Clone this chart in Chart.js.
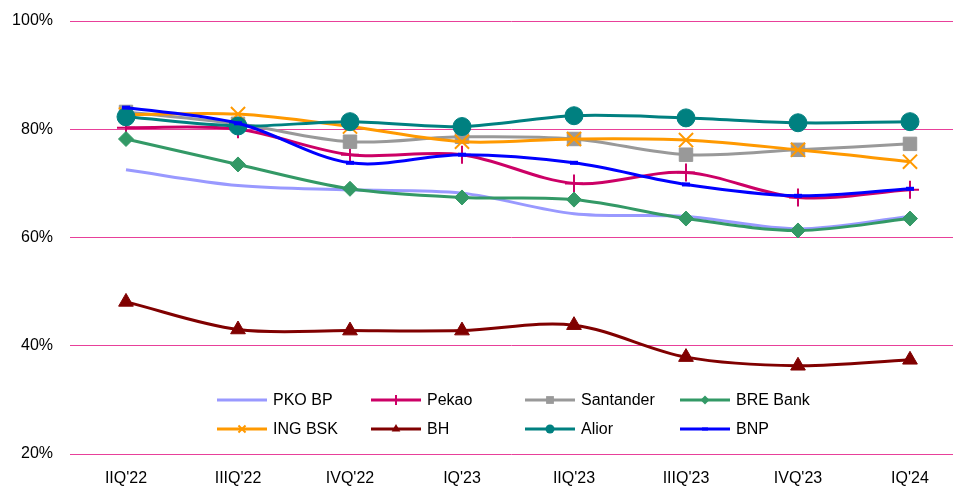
<!DOCTYPE html>
<html>
<head>
<meta charset="utf-8">
<script src="https://cdn.jsdelivr.net/npm/chart.js@4/dist/chart.umd.min.js"></script>
<style>
  html, body { margin: 0; padding: 0; background: #ffffff; }
  #wrap { width: 954px; height: 488px; position: relative; }
</style>
</head>
<body>
<div id="wrap"><canvas id="c" width="954" height="488"></canvas></div>
<script>
const categories = ["IIQ'22", "IIIQ'22", "IVQ'22", "IQ'23", "IIQ'23", "IIIQ'23", "IVQ'23", "IQ'24"];
const yTicks = [20, 40, 60, 80, 100];

const pkoBP     = [72.5, 69.6, 68.8, 68.2, 64.4, 63.9, 61.6, 63.9];
const pekao     = [80.3, 80.0, 75.3, 75.3, 70.0, 72.0, 67.4, 68.8];
const santander = [83.2, 81.0, 77.7, 78.6, 78.2, 75.3, 76.2, 77.3];
const breBank   = [78.2, 73.5, 69.0, 67.4, 67.0, 63.5, 61.3, 63.5];
const ingBSK    = [82.7, 82.8, 80.5, 77.7, 78.2, 78.0, 76.2, 74.0];
const bh        = [48.1, 43.0, 42.8, 42.8, 43.8, 37.9, 36.3, 37.4];
const alior     = [82.3, 80.6, 81.4, 80.5, 82.5, 82.1, 81.2, 81.4];
const bnp       = [84.0, 81.1, 73.8, 75.3, 73.8, 69.8, 67.7, 69.0];

const seriesNames = ["PKO BP", "Pekao", "Santander", "BRE Bank", "ING BSK", "BH", "Alior", "BNP"];
const seriesData = [pkoBP, pekao, santander, breBank, ingBSK, bh, alior, bnp];

const styles = [
  { color: '#9999FF', style: 'none',     r: 0,  lr: 0 },
  { color: '#CC0066', style: 'cross',    r: 9,  lr: 5 },
  { color: '#999999', style: 'rect',     r: 9.5,lr: 5.5 },
  { color: '#339966', style: 'rectRot',  r: 7.5,lr: 4.5 },
  { color: '#FF9900', style: 'crossRot', r: 10, lr: 5 },
  { color: '#800000', style: 'triangle', r: 8.5,lr: 5 },
  { color: '#008080', style: 'circle',   r: 9,  lr: 4.5 },
  { color: '#0000FF', style: 'line',     r: 4,  lr: 3 }
];

const datasets = seriesNames.map((name, i) => {
  const s = styles[i];
  const isLineMarker = s.style === 'cross' || s.style === 'crossRot' || s.style === 'line';
  return {
    label: name,
    data: seriesData[i].map((v, k) => ({ x: k, y: v })),
    borderColor: s.color,
    backgroundColor: s.color,
    borderWidth: 3,
    tension: 0.33,
    order: seriesNames.length - i,
    clip: false,
    pointStyle: s.style === 'none' ? false : s.style,
    pointRadius: s.r,
    pointHoverRadius: s.r,
    pointBorderWidth: s.style === 'line' ? 4 : (isLineMarker ? 2 : 1),
    pointBackgroundColor: s.color,
    pointBorderColor: s.color
  };
});

function drawMarker(ctx, style, x, y, r, color) {
  ctx.save();
  ctx.fillStyle = color;
  ctx.strokeStyle = color;
  ctx.beginPath();
  const q = Math.SQRT1_2 * r;
  switch (style) {
    case 'circle':
      ctx.arc(x, y, r, 0, Math.PI * 2); ctx.fill(); break;
    case 'rect':
      ctx.fillRect(x - q, y - q, 2 * q, 2 * q); break;
    case 'rectRot':
      ctx.moveTo(x - r, y); ctx.lineTo(x, y - r); ctx.lineTo(x + r, y); ctx.lineTo(x, y + r);
      ctx.closePath(); ctx.fill(); break;
    case 'triangle':
      ctx.moveTo(x, y - r); ctx.lineTo(x + r * 0.866, y + r * 0.5); ctx.lineTo(x - r * 0.866, y + r * 0.5);
      ctx.closePath(); ctx.fill(); break;
    case 'cross':
      ctx.lineWidth = 2;
      ctx.moveTo(x, y - r); ctx.lineTo(x, y + r); ctx.moveTo(x - r, y); ctx.lineTo(x + r, y);
      ctx.stroke(); break;
    case 'crossRot':
      ctx.lineWidth = 2;
      ctx.moveTo(x - q, y - q); ctx.lineTo(x + q, y + q); ctx.moveTo(x + q, y - q); ctx.lineTo(x - q, y + q);
      ctx.stroke(); break;
    case 'line':
      ctx.fillRect(x - r, y - 1.5, 2 * r, 3); break;
  }
  ctx.restore();
}

const legendPlugin = {
  id: 'customLegend',
  afterDraw(chart) {
    const ctx = chart.ctx;
    const colX = [217, 371, 525, 680];
    const rowY = [400, 429];
    ctx.save();
    seriesNames.forEach((name, i) => {
      const s = styles[i];
      const x0 = colX[i % 4];
      const y = rowY[Math.floor(i / 4)];
      ctx.strokeStyle = s.color;
      ctx.lineWidth = 3;
      ctx.beginPath();
      ctx.moveTo(x0, y); ctx.lineTo(x0 + 50, y);
      ctx.stroke();
      if (s.style !== 'none') drawMarker(ctx, s.style, x0 + 25, y, s.lr, s.color);
      ctx.fillStyle = '#000000';
      ctx.font = '16px "Liberation Sans", Arial, sans-serif';
      ctx.textBaseline = 'middle';
      ctx.textAlign = 'left';
      ctx.fillText(name, x0 + 56, y + 1);
    });
    ctx.restore();
  }
};

new Chart(document.getElementById('c'), {
  type: 'line',
  data: { datasets },
  plugins: [legendPlugin],
  options: {
    responsive: false,
    animation: false,
    layout: { autoPadding: false, padding: { top: 21, right: 1, left: 0, bottom: 0 } },
    plugins: { legend: { display: false }, tooltip: { enabled: false } },
    scales: {
      x: {
        type: 'linear',
        min: -0.5,
        max: 7.384,
        afterBuildTicks(scale) { scale.ticks = categories.map((_, k) => ({ value: k })); },
        afterFit(scale) {
          scale.height = 34;
          scale.paddingLeft = 0; scale.paddingRight = 0;
          scale.paddingTop = 0; scale.paddingBottom = 0;
        },
        grid: { display: false, drawTicks: false },
        border: { display: false },
        ticks: {
          autoSkip: false,
          maxRotation: 0,
          padding: 15,
          color: '#000000',
          font: { family: '"Liberation Sans", Arial, sans-serif', size: 16 },
          callback: (v) => categories[v] !== undefined ? categories[v] : ''
        }
      },
      y: {
        min: 20,
        max: 100,
        afterBuildTicks(scale) { scale.ticks = yTicks.map(v => ({ value: v })); },
        afterFit(scale) {
          scale.width = 70;
          scale.paddingTop = 0; scale.paddingBottom = 0;
          scale.paddingLeft = 0; scale.paddingRight = 0;
        },
        grid: { color: '#E8409A', lineWidth: 1, drawTicks: false },
        border: { display: false },
        ticks: {
          padding: 17,
          color: '#000000',
          font: { family: '"Liberation Sans", Arial, sans-serif', size: 16 },
          callback: (v) => v + '%'
        }
      }
    }
  }
});
</script>
</body>
</html>
